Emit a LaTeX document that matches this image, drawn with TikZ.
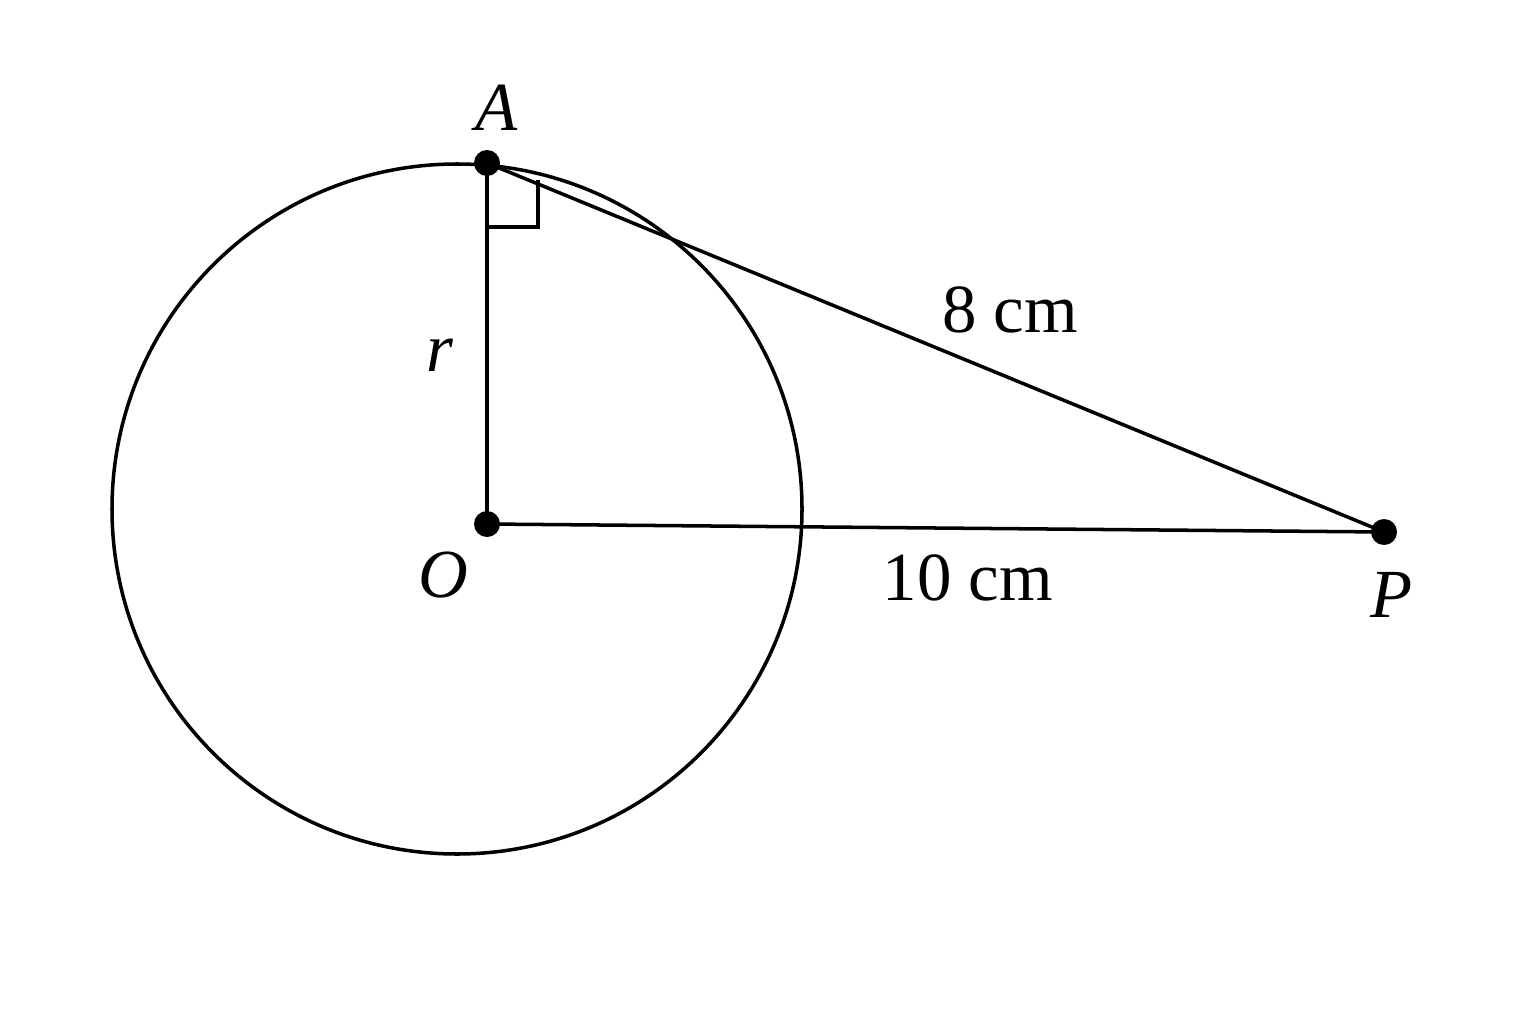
\documentclass[tikz,border=0pt]{standalone}
\usepackage{fontspec}
\setmainfont{Liberation Serif}
\usepackage{tikz}
\usetikzlibrary{calc,positioning}

\begin{document}
\begin{tikzpicture}[line width=1pt]

\tikzset{dotnode/.style={fill=black,inner sep=0pt,minimum size=2.6mm,shape=circle},
labelnode/.style={font=\fontsize{19.6}{24}\selectfont,inner sep=0pt}}

\useasboundingbox (0,0) rectangle (15.36,10.24);

% Circle
\coordinate (centre) at (4.57,5.15);
\draw (centre) circle (3.45);

% points
\node (A) [dotnode] at (4.87,8.61) {};
\node (O) [dotnode] at (4.87,5.00) {};
\node (P) [dotnode] at (13.84,4.92) {};

% Edges
\draw (A.center) -- (O.center) -- (P.center) -- (A.center);

% right angle
\draw ($(A) + (0,-0.64)$) -- ++(0.51,0) -- ++(0,0.47);

% labels
\node[labelnode] (labA) at (4.97,9.16) {\textit{A}};
\node[labelnode] (labr) at (4.40,6.69) {\textit{r}};
\node[labelnode] (labO) at (4.43,4.49) {\textit{O}};
\node[labelnode] (labP) at (13.92,4.29) {\textit{P}};
\node[labelnode] (labAP) at (10.10,7.14) {8 cm};
\node[labelnode] (labOP) at (9.68,4.46) {10 cm};

\end{tikzpicture}
\end{document}
